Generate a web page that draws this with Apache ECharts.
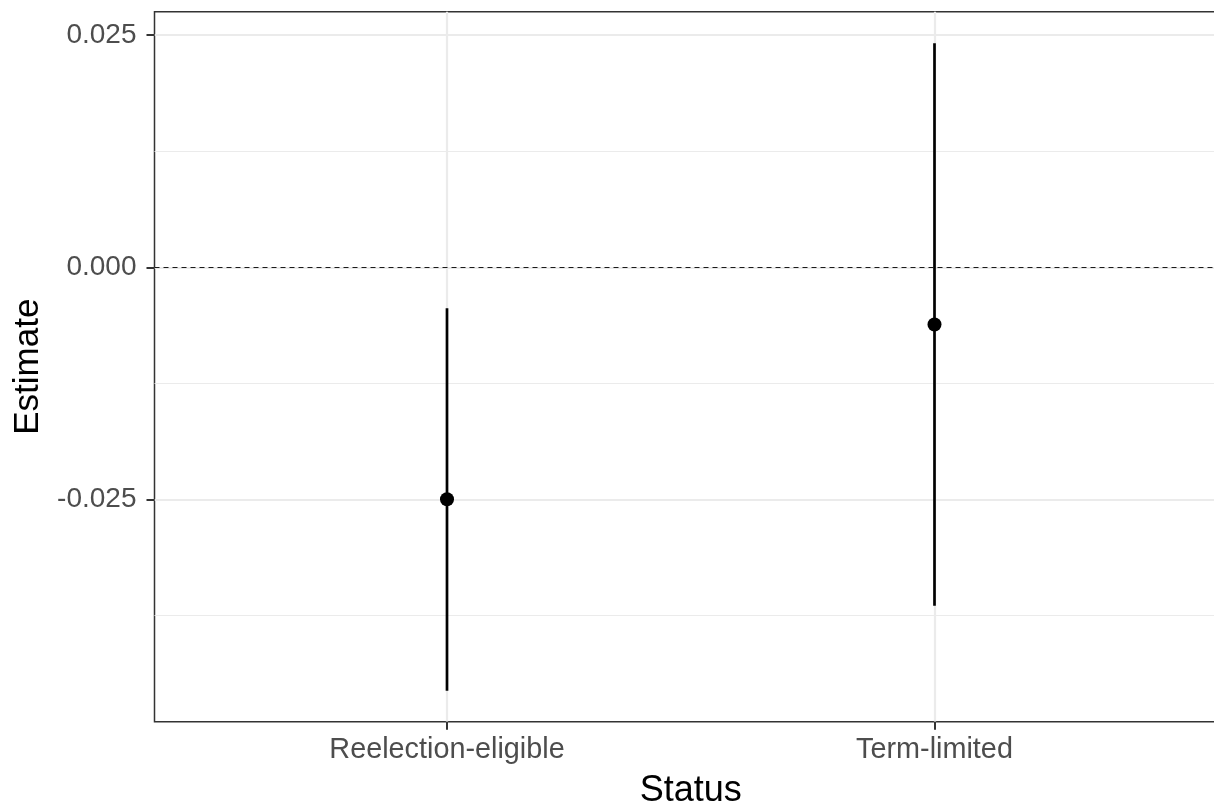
<!DOCTYPE html>
<html>
<head>
<meta charset="utf-8">
<script src="https://cdn.jsdelivr.net/npm/echarts@6/dist/echarts.min.js"></script>
<style>
html,body{margin:0;padding:0;background:#fff;}
#chart{width:1214px;height:803px;}
</style>
</head>
<body>
<div id="chart"></div>
<script>
// Data
const categories = ['Reelection-eligible', 'Term-limited'];
const estimates = [-0.02498, -0.00616];
const lowerCI = [-0.04559, -0.03644];
const upperCI = [-0.00442, 0.02412];
const yMajorTicks = [-0.025, 0, 0.025];
const yMinorTicks = [-0.0375, -0.0125, 0.0125];

const xPos = categories.map((c, i) => i + 1);
const pointData = categories.map((c, i) => [xPos[i], estimates[i]]);
const barData = categories.map((c, i) => [xPos[i], lowerCI[i], upperCI[i]]);

const FONT = '"Liberation Sans", Arial, Helvetica, sans-serif';
const yMin = -0.048934, yMax = 0.027525;

const chart = echarts.init(document.getElementById('chart'), null, {renderer: 'canvas'});
chart.setOption({
  animation: false,
  backgroundColor: '#ffffff',
  grid: {
    left: 154.5, top: 11.7, width: 1072.5, height: 710,
    containLabel: false, outerBoundsMode: 'none',
    show: true, borderColor: '#333333', borderWidth: 1.5, backgroundColor: '#ffffff'
  },
  xAxis: [{
    type: 'value', min: 0.4, max: 2.6,
    name: 'Status', nameLocation: 'middle', nameGap: 51,
    nameTextStyle: {fontFamily: FONT, fontSize: 36, color: '#000000'},
    axisLine: {show: false, onZero: false},
    axisTick: {show: true, customValues: xPos, length: 8, lineStyle: {color: '#333333', width: 2}},
    axisLabel: {customValues: xPos, margin: 14, fontFamily: FONT, fontSize: 28.8, color: '#4d4d4d',
      formatter: v => categories[Math.round(v) - 1] || ''},
    splitLine: {show: true, lineStyle: {color: '#ebebeb', width: 2.2}}
  }],
  yAxis: [{
    type: 'value', min: yMin, max: yMax,
    name: 'Estimate', nameLocation: 'middle', nameGap: 109, nameRotate: 90,
    nameTextStyle: {fontFamily: FONT, fontSize: 35, color: '#000000'},
    axisLine: {show: false, onZero: false},
    axisTick: {show: true, customValues: yMajorTicks, length: 8, lineStyle: {color: '#333333', width: 2}},
    axisLabel: {customValues: yMajorTicks, margin: 18, fontFamily: FONT, fontSize: 28, color: '#4d4d4d',
      formatter: v => v.toFixed(3)},
    splitLine: {show: true, lineStyle: {color: '#ebebeb', width: 2.2}},
    z: 2
  }, {
    type: 'value', min: yMin, max: yMax, position: 'left',
    axisLine: {show: false, onZero: false},
    axisTick: {show: false, customValues: yMinorTicks},
    axisLabel: {show: false, customValues: yMinorTicks},
    splitLine: {show: true, lineStyle: {color: '#ebebeb', width: 1.1}},
    z: 1
  }],
  series: [{
    type: 'custom',
    xAxisIndex: 0, yAxisIndex: 0,
    data: barData,
    encode: {x: 0, y: [1, 2]},
    renderItem: function (params, api) {
      const p1 = api.coord([api.value(0), api.value(1)]);
      const p2 = api.coord([api.value(0), api.value(2)]);
      return {
        type: 'line',
        shape: {x1: p1[0], y1: p1[1], x2: p2[0], y2: p2[1]},
        style: {stroke: '#000000', lineWidth: 2.7}
      };
    },
    z: 3
  }, {
    type: 'scatter',
    xAxisIndex: 0, yAxisIndex: 0,
    data: pointData,
    symbol: 'circle', symbolSize: 14,
    itemStyle: {color: '#000000', opacity: 1},
    markLine: {
      silent: true, symbol: 'none', label: {show: false},
      lineStyle: {color: '#1a1a1a', width: 1.2, type: [5, 4], opacity: 1},
      data: [{yAxis: 0}]
    },
    z: 4
  }]
});
</script>
</body>
</html>
